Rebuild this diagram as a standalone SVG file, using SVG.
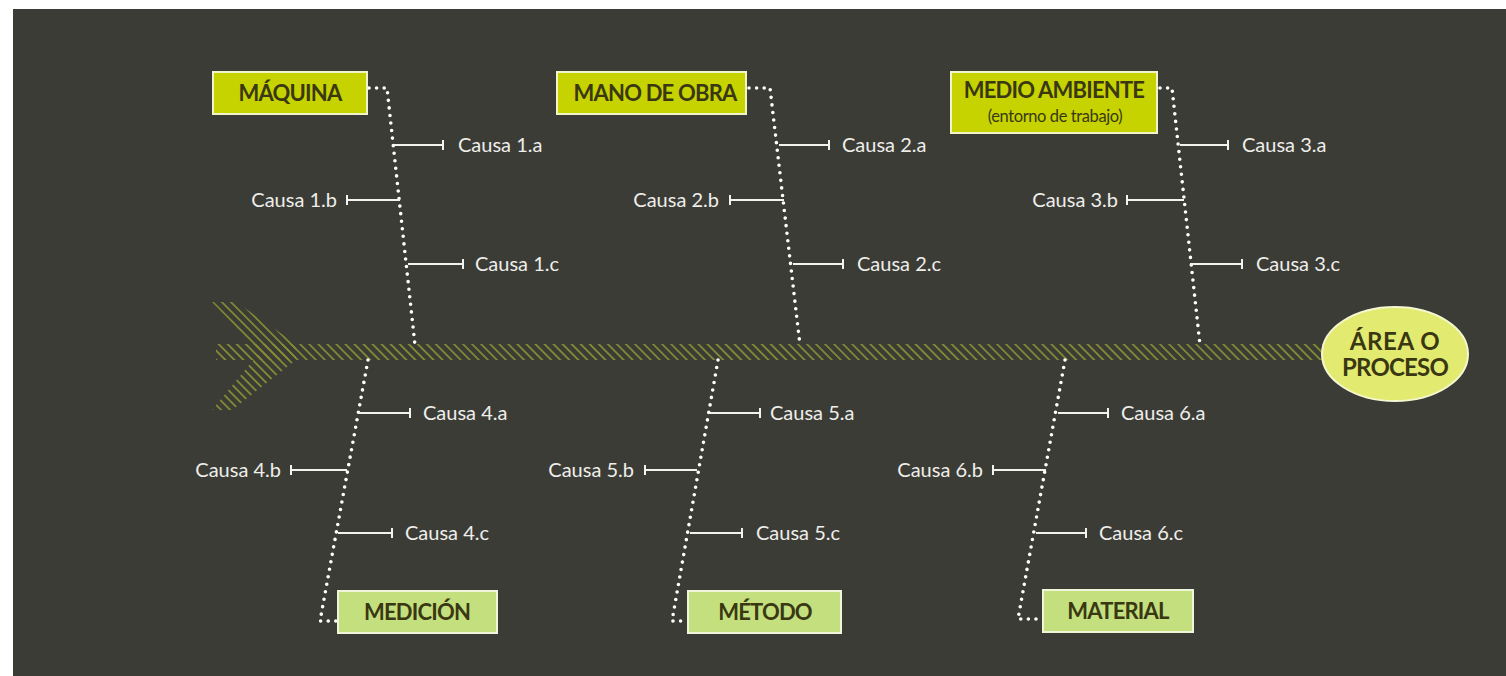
<svg xmlns="http://www.w3.org/2000/svg" width="1506" height="676" viewBox="0 0 1506 676">
  <style>
    .cause { font-family: Lato, "Open Sans", "Liberation Sans", sans-serif; font-size: 20px; fill: #eeeeea; }
    .head { font-family: Lato, "Open Sans", "Liberation Sans", sans-serif; font-weight: 700; font-size: 22px; fill: #3a3812; letter-spacing: -0.8px; }
    .sub { font-family: Lato, "Open Sans", "Liberation Sans", sans-serif; font-size: 16.5px; fill: #3a3812; letter-spacing: -0.4px; }
    .dots { fill: none; stroke: #ffffff; stroke-width: 3.6; stroke-linecap: round; stroke-dasharray: 0 7.6; }
    .rib { stroke: #f2f2ee; stroke-width: 2; fill: none; }
    .boxTop { fill: #c6d300; stroke: #f1f4c8; stroke-width: 2; }
    .boxBot { fill: #c3df7e; stroke: #eef5d8; stroke-width: 2; }
  </style>
  <defs>
    <pattern id="hatch" patternUnits="userSpaceOnUse" width="6.4" height="10" patternTransform="rotate(-45)">
      <rect x="0" y="0" width="1.7" height="10" fill="#868d33"/>
    </pattern>
  </defs>

  <!-- backdrop -->
  <rect x="0" y="0" width="1506" height="676" fill="#ffffff"/>
  <rect x="13" y="9" width="1493" height="667" fill="#3c3c37"/>

  <!-- spine and tail -->
  <g id="spine">
    <polygon points="212,302 236,302 296,344 296,360 232,410 212,410 260,352" fill="url(#hatch)"/>
    <rect x="216" y="344" width="1108" height="16" fill="url(#hatch)"/>
  </g>

  <g id="connectors">
    <!-- upper bones -->
    <path class="dots" d="M369,88 H387 L415,345"/>
    <path class="dots" d="M749,88 H770 L800,345"/>
    <path class="dots" d="M1160,88 H1172 L1200,345"/>
    <!-- lower bones -->
    <path class="dots" d="M368,360 L320,621 H338"/>
    <path class="dots" d="M718,360 L672,621 H688"/>
    <path class="dots" d="M1065,360 L1018,619 H1043"/>

    <!-- ribs: a line with a bar at its outer end -->
    <path class="rib" d="M394,145 H443 M443,140 V150"/>
    <path class="rib" d="M400,200 H347 M347,195 V205"/>
    <path class="rib" d="M408,264 H463 M463,259 V269"/>

    <path class="rib" d="M779,145 H829 M829,140 V150"/>
    <path class="rib" d="M784,200 H730 M730,195 V205"/>
    <path class="rib" d="M793,264 H843 M843,259 V269"/>

    <path class="rib" d="M1180,145 H1228 M1228,140 V150"/>
    <path class="rib" d="M1184,200 H1127 M1127,195 V205"/>
    <path class="rib" d="M1190,264 H1242 M1242,259 V269"/>

    <path class="rib" d="M358,413 H410 M410,408 V418"/>
    <path class="rib" d="M347,470 H291 M291,465 V475"/>
    <path class="rib" d="M338,533 H392 M392,528 V538"/>

    <path class="rib" d="M710,413 H760 M760,408 V418"/>
    <path class="rib" d="M697,470 H645 M645,465 V475"/>
    <path class="rib" d="M690,533 H742 M742,528 V538"/>

    <path class="rib" d="M1058,413 H1108 M1108,408 V418"/>
    <path class="rib" d="M1046,470 H993 M993,465 V475"/>
    <path class="rib" d="M1036,533 H1086 M1086,528 V538"/>
  </g>

  <!-- cause labels -->
  <g id="causes">
    <text class="cause" x="458" y="152">Causa 1.a</text>
    <text class="cause" x="337" y="207" text-anchor="end">Causa 1.b</text>
    <text class="cause" x="475" y="271">Causa 1.c</text>

    <text class="cause" x="842" y="152">Causa 2.a</text>
    <text class="cause" x="719" y="207" text-anchor="end">Causa 2.b</text>
    <text class="cause" x="857" y="271">Causa 2.c</text>

    <text class="cause" x="1242" y="152">Causa 3.a</text>
    <text class="cause" x="1118" y="207" text-anchor="end">Causa 3.b</text>
    <text class="cause" x="1256" y="271">Causa 3.c</text>

    <text class="cause" x="423" y="420">Causa 4.a</text>
    <text class="cause" x="281" y="477" text-anchor="end">Causa 4.b</text>
    <text class="cause" x="405" y="540">Causa 4.c</text>

    <text class="cause" x="770" y="420">Causa 5.a</text>
    <text class="cause" x="634" y="477" text-anchor="end">Causa 5.b</text>
    <text class="cause" x="756" y="540">Causa 5.c</text>

    <text class="cause" x="1121" y="420">Causa 6.a</text>
    <text class="cause" x="983" y="477" text-anchor="end">Causa 6.b</text>
    <text class="cause" x="1099" y="540">Causa 6.c</text>
  </g>

  <!-- category boxes -->
  <g id="maquina">
    <rect class="boxTop" x="213" y="72" width="154" height="42"/>
    <text class="head" x="290" y="101" text-anchor="middle">MÁQUINA</text>
  </g>
  <g id="mano-de-obra">
    <rect class="boxTop" x="557" y="72" width="189" height="42"/>
    <text class="head" x="655" y="101" text-anchor="middle">MANO DE OBRA</text>
  </g>
  <g id="medio-ambiente">
    <rect class="boxTop" x="951" y="72" width="206" height="61"/>
    <text class="head" x="1054" y="98" text-anchor="middle">MEDIO AMBIENTE</text>
    <text class="sub" x="1055" y="122" text-anchor="middle">(entorno de trabajo)</text>
  </g>
  <g id="medicion">
    <rect class="boxBot" x="338" y="591" width="159" height="42"/>
    <text class="head" x="417" y="620" text-anchor="middle">MEDICIÓN</text>
  </g>
  <g id="metodo">
    <rect class="boxBot" x="688" y="591" width="153" height="42"/>
    <text class="head" x="765" y="620" text-anchor="middle">MÉTODO</text>
  </g>
  <g id="material">
    <rect class="boxBot" x="1043" y="590" width="150" height="42"/>
    <text class="head" x="1118" y="619" text-anchor="middle">MATERIAL</text>
  </g>

  <!-- effect -->
  <g id="area-proceso">
    <ellipse cx="1395" cy="354" rx="73" ry="47" fill="#e2eb70" stroke="#f4f7d0" stroke-width="2"/>
    <text class="head" x="1395" y="350" text-anchor="middle" style="font-size:24px;letter-spacing:0.6px">ÁREA O</text>
    <text class="head" x="1395" y="376" text-anchor="middle" style="font-size:24px">PROCESO</text>
  </g>
</svg>
